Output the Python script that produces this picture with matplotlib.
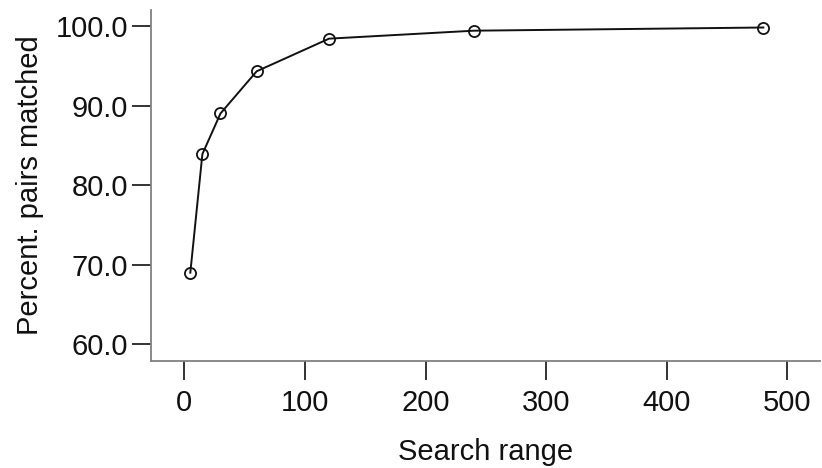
import matplotlib
matplotlib.use("Agg")
import matplotlib.pyplot as plt

search_range = [5, 15, 30, 60, 120, 240, 480]
pct_matched = [69.0, 83.9, 89.0, 94.3, 98.4, 99.4, 99.8]
x_ticks = [0, 100, 200, 300, 400, 500]
y_ticks = [60.0, 70.0, 80.0, 90.0, 100.0]

plt.rcParams['font.family'] = ['Liberation Sans', 'DejaVu Sans']

fig = plt.figure(figsize=(8.22, 4.68), dpi=100)
W, H = 822, 468
ax = fig.add_axes([151 / W, 1 - 361 / H, (820 - 151) / W, (361 - 10) / H])

ax.plot(search_range, pct_matched, color='#111111', linewidth=1.4,
        marker='o', markersize=8, markerfacecolor='none',
        markeredgecolor='#111111', markeredgewidth=1.3)

ax.set_xlim(-27.6, 527)
ax.set_ylim(57.9, 102.0)
ax.set_xticks(x_ticks)
ax.set_xticklabels([str(v) for v in x_ticks])
ax.set_yticks(y_ticks)
ax.set_yticklabels([f"{v:.1f}" for v in y_ticks])

for s in ['top', 'right']:
    ax.spines[s].set_visible(False)
for s in ['left', 'bottom']:
    ax.spines[s].set_color('#808080')
    ax.spines[s].set_linewidth(1.3)

ax.tick_params(axis='both', direction='out', length=13.5, width=1.4,
               color='#333333', labelsize=21, labelcolor='#111111')
ax.tick_params(axis='x', pad=7)
ax.tick_params(axis='y', pad=3)

ax.set_xlabel('Search range', fontsize=21, color='#111111', labelpad=15)
ax.set_ylabel('Percent. pairs matched', fontsize=21, color='#111111', labelpad=8)

fig.savefig('out.png', dpi=100)
